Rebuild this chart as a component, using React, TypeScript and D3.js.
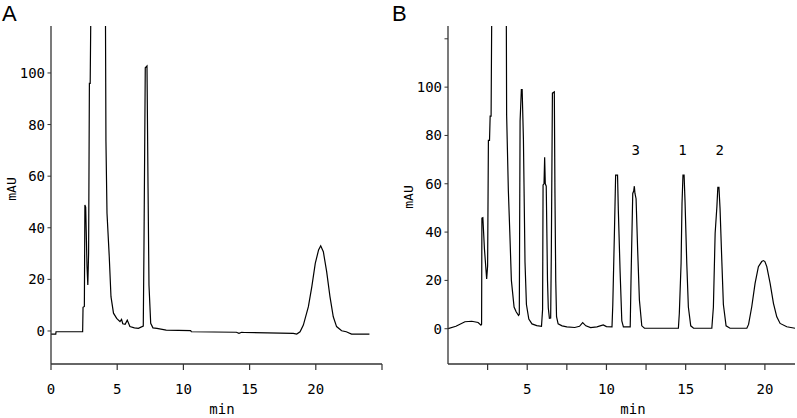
import React from "react";
import * as d3 from "d3";

// Panel A chromatogram: [time (min), absorbance (mAU)]
const traceA: [number, number][] = [
  [0, -1.2], [0.36, -1.2], [0.38, -0.3], [2.39, -0.3], [2.42, 9.2], [2.52, 9.5],
  [2.56, 48.8], [2.62, 48], [2.72, 25], [2.78, 17.8], [2.84, 30], [2.9, 96],
  [2.96, 96], [3.02, 130], [3.5, 300], [4.1, 140], [4.15, 73.5], [4.23, 45.6],
  [4.4, 28.8], [4.53, 13.3], [4.72, 6.9], [4.96, 4.9], [5.21, 3.6], [5.33, 4.5],
  [5.42, 2.8], [5.6, 2.6], [5.76, 4.2], [5.96, 1.7], [6.3, 1.2], [6.6, 1.0],
  [6.97, 1.9], [7.02, 31.4], [7.12, 102], [7.25, 102.7], [7.33, 55.3], [7.4, 17.8],
  [7.53, 3], [7.7, 1.2], [8.0, 1.0], [8.7, 0.3], [10.55, 0.1], [10.6, -0.3],
  [14.0, -0.5], [14.2, -0.9], [14.4, -0.5], [14.6, -0.6], [18.3, -0.9], [18.56, -1.2],
  [18.81, -0.3], [19.06, 2.3], [19.44, 9.4], [19.7, 17.2], [19.96, 26.2], [20.21, 31.4],
  [20.37, 33], [20.57, 30.7], [20.82, 23], [21.07, 13.3], [21.32, 5.5], [21.57, 1.7],
  [21.95, 0.1], [22.3, -0.3], [22.7, -1.2], [24.05, -1.2],
];

// Panel B chromatogram: [time (min), absorbance (mAU)]
const traceB: [number, number][] = [
  [0, 0], [0.5, 1], [1.07, 2.9], [1.5, 3.1], [1.9, 2.6], [2.08, 1.5], [2.12, 1.8],
  [2.14, 45.8], [2.2, 46], [2.3, 33], [2.44, 20.6], [2.5, 26], [2.55, 78], [2.62, 78],
  [2.66, 88], [2.72, 88], [2.76, 130], [3.2, 300], [3.68, 130], [3.7, 88.6], [3.81, 57],
  [3.9, 40], [4.0, 20], [4.17, 9], [4.3, 7], [4.45, 5.5], [4.5, 6], [4.55, 86],
  [4.63, 99], [4.68, 99], [4.76, 78.4], [4.86, 27.5], [4.95, 10], [5.1, 4], [5.3, 2],
  [5.6, 1.3], [5.9, 1], [5.97, 8], [6.0, 59.5], [6.06, 60], [6.1, 71], [6.14, 60],
  [6.2, 59], [6.28, 20], [6.33, 8.6], [6.4, 4.3], [6.48, 4.4], [6.52, 31], [6.59, 97.5],
  [6.71, 98], [6.75, 56], [6.8, 20], [6.85, 5], [6.95, 2], [7.2, 1.2], [7.5, 0.8],
  [8.0, 0.5], [8.3, 1.0], [8.5, 2.5], [8.7, 1.2], [9.0, 0.5], [9.4, 0.8], [9.6, 1.2],
  [9.8, 1.6], [10.0, 0.9], [10.35, 0.8], [10.4, 9.8], [10.5, 38.8], [10.58, 63.6],
  [10.7, 63.6], [10.75, 49], [10.86, 24], [10.97, 3.2], [11.07, 0.8], [11.5, 0.8],
  [11.55, 20], [11.66, 56], [11.72, 57], [11.76, 59], [11.8, 56], [11.87, 53.8],
  [11.97, 32.6], [12.08, 11.9], [12.23, 1.2], [12.4, 0.2], [14.54, 0.2], [14.6, 6.4],
  [14.71, 27], [14.77, 52], [14.83, 63.6], [14.9, 63.6], [14.96, 52.6], [15.07, 27],
  [15.17, 9], [15.32, 1.2], [15.5, 0.2], [16.65, 0.2], [16.75, 9], [16.86, 39.5],
  [16.97, 50.5], [17.03, 58.5], [17.1, 58.5], [17.17, 49.6], [17.28, 28.4], [17.38, 10],
  [17.55, 1.2], [17.8, 0.2], [18.86, 0.2], [18.97, 1.8], [19.17, 9.1], [19.38, 18.8],
  [19.59, 25.7], [19.8, 27.8], [19.91, 28.2], [20.0, 27.8], [20.12, 25.7], [20.33, 18.8],
  [20.54, 10.5], [20.75, 4.9], [20.96, 2.2], [21.38, 0.8], [21.9, 0.2],
];

const xTicksA = [0, 5, 10, 15, 20, 25];
const xLabelsA = [0, 5, 10, 15, 20];
const yTicksA = [0, 20, 40, 60, 80, 100];
const xTicksB = [2.5, 5, 7.5, 10, 12.5, 15, 17.5, 20];
const xLabelsB = [5, 10, 15, 20];
const yTicksB = [0, 20, 40, 60, 80, 100, 120];
const yLabelsB = [0, 20, 40, 60, 80, 100];
const peakLabels: { t: number; label: string }[] = [
  { t: 11.85, label: "3" },
  { t: 14.8, label: "1" },
  { t: 17.15, label: "2" },
];
const peakLabelLevel = 72;

const FONT = "'DejaVu Sans Mono', monospace";
const AXIS = "#333";

type PanelProps = {
  id: string;
  letter: string;
  letterX: number;
  trace: [number, number][];
  xDomain: [number, number];
  xRange: [number, number];
  yDomain: [number, number];
  xTicks: number[];
  xLabels: number[];
  yTicks: number[];
  yLabels: number[];
  yTitleX: number;
  yTitleY: number;
  xTitleX: number;
  children?: (x: d3.ScaleLinear<number, number>, y: d3.ScaleLinear<number, number>) => React.ReactNode;
};

function Panel(p: PanelProps) {
  const top = 26;
  const bottom = 364;
  const x = d3.scaleLinear().domain(p.xDomain).range(p.xRange);
  const y = d3.scaleLinear().domain(p.yDomain).range([bottom, top]);
  const line = d3
    .line<[number, number]>()
    .x((d) => x(d[0]))
    .y((d) => y(d[1]));
  const [x0, x1] = p.xRange;
  return (
    <g>
      <defs>
        <clipPath id={`clip-${p.id}`}>
          <rect x={x0} y={top} width={x1 - x0 + 2} height={bottom - top} />
        </clipPath>
      </defs>
      <text x={p.letterX} y={21} fontFamily="'Liberation Sans', Arial, sans-serif" fontSize={22}>
        {p.letter}
      </text>
      <path
        d={line(p.trace) || ""}
        fill="none"
        stroke="#000"
        strokeWidth={1.2}
        clipPath={`url(#clip-${p.id})`}
      />
      <line x1={x0} x2={x0} y1={top} y2={bottom} stroke={AXIS} strokeWidth={1.3} />
      <line x1={x0} x2={x1} y1={bottom} y2={bottom} stroke={AXIS} strokeWidth={1.3} />
      {p.yTicks.map((t) => (
        <line key={`yt${t}`} x1={x0 - 3.5} x2={x0} y1={y(t)} y2={y(t)} stroke={AXIS} strokeWidth={1} />
      ))}
      {p.yLabels.map((t) => (
        <text
          key={`yl${t}`}
          x={x0 - 6}
          y={y(t)}
          dy="0.36em"
          textAnchor="end"
          fontFamily={FONT}
          fontSize={14}
        >
          {t}
        </text>
      ))}
      {p.xTicks.map((t) => (
        <line key={`xt${t}`} x1={x(t)} x2={x(t)} y1={bottom} y2={bottom + 6} stroke={AXIS} strokeWidth={1.2} />
      ))}
      {p.xLabels.map((t) => (
        <text key={`xl${t}`} x={x(t)} y={394} textAnchor="middle" fontFamily={FONT} fontSize={14}>
          {t}
        </text>
      ))}
      <text x={p.xTitleX} y={414} textAnchor="middle" fontFamily={FONT} fontSize={14}>
        min
      </text>
      <text
        transform={`translate(${p.yTitleX},${p.yTitleY}) rotate(-90)`}
        textAnchor="middle"
        fontFamily={FONT}
        fontSize={13}
      >
        mAU
      </text>
      {p.children ? p.children(x, y) : null}
    </g>
  );
}

export default function App() {
  return (
    <svg
      width={797}
      height={418}
      style={{ position: "absolute", left: 0, top: 0, background: "#fff" }}
    >
      <rect width={797} height={418} fill="#fff" />
      <Panel
        id="a"
        letter="A"
        letterX={2}
        trace={traceA}
        xDomain={[0, 25]}
        xRange={[51, 382]}
        yDomain={[-12.8, 118.2]}
        xTicks={xTicksA}
        xLabels={xLabelsA}
        yTicks={yTicksA}
        yLabels={yTicksA}
        yTitleX={16}
        yTitleY={189}
        xTitleX={222}
      />
      <Panel
        id="b"
        letter="B"
        letterX={392}
        trace={traceB}
        xDomain={[0, 21.9]}
        xRange={[448, 795]}
        yDomain={[-14.6, 125.3]}
        xTicks={xTicksB}
        xLabels={xLabelsB}
        yTicks={yTicksB}
        yLabels={yLabelsB}
        yTitleX={413}
        yTitleY={197}
        xTitleX={633}
      >
        {(x, y) =>
          peakLabels.map((pl) => (
            <text
              key={pl.label}
              x={x(pl.t)}
              y={y(peakLabelLevel)}
              textAnchor="middle"
              fontFamily={FONT}
              fontSize={14}
            >
              {pl.label}
            </text>
          ))
        }
      </Panel>
    </svg>
  );
}
